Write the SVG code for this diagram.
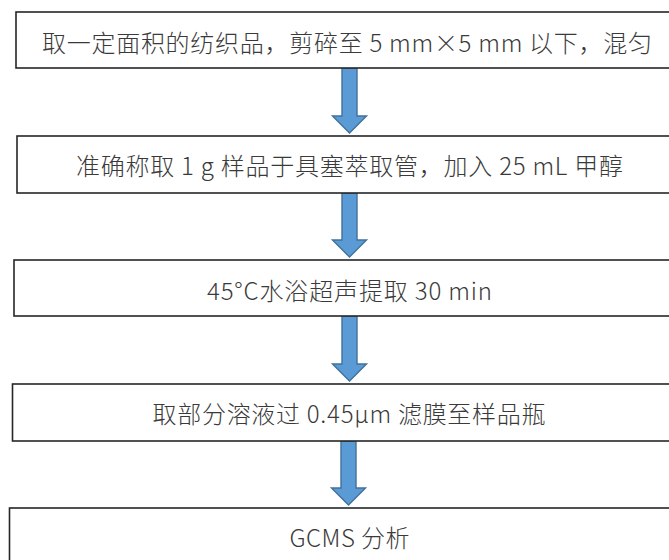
<svg xmlns="http://www.w3.org/2000/svg" width="669" height="560" viewBox="0 0 669 560">
<style>
.box{fill:#ffffff;stroke:#262626;stroke-width:1.6}
.t{font-family:"Noto Sans CJK SC","Noto Sans",sans-serif;font-size:24px;font-weight:300;fill:#3a3a3a;text-anchor:middle;dominant-baseline:central}
.arr{fill:#5B9BD5;stroke:#41719C;stroke-width:1.4;stroke-linejoin:miter}
</style>
<rect width="669" height="560" fill="#ffffff"/>
<g id="connectors">
<path class="arr" d="M342,68 H357 V116 H366.5 L349.5,133 L332.5,116 H342 Z"/>
<path class="arr" d="M342,193 H357 V240 H366.5 L349.5,257 L332.5,240 H342 Z"/>
<path class="arr" d="M342,316 H357 V364 H366.5 L349.5,381 L332.5,364 H342 Z"/>
<path class="arr" d="M341,441 H356 V488 H365.5 L348.5,505 L331.5,488 H341 Z"/>
</g>
<g id="n1">
<rect class="box" x="16" y="12" width="700" height="56"/>
<text class="t" x="347" y="41" textLength="610" lengthAdjust="spacing">取一定面积的纺织品，剪碎至 5 mm×5 mm 以下，混匀</text>
</g>
<g id="n2">
<rect class="box" x="17" y="136" width="700" height="57"/>
<text class="t" x="349.5" y="164" textLength="547" lengthAdjust="spacing">准确称取 1 g 样品于具塞萃取管，加入 25 mL 甲醇</text>
</g>
<g id="n3">
<rect class="box" x="14" y="260" width="700" height="56"/>
<text class="t" x="349.5" y="289" textLength="285" lengthAdjust="spacing">45°C水浴超声提取 30 min</text>
</g>
<g id="n4">
<rect class="box" x="12.5" y="384" width="700" height="57"/>
<text class="t" x="349" y="412" textLength="393" lengthAdjust="spacing">取部分溶液过 0.45μm 滤膜至样品瓶</text>
</g>
<g id="n5">
<rect class="box" x="9.5" y="508" width="700" height="80"/>
<text class="t" x="349.5" y="536" textLength="120" lengthAdjust="spacing">GCMS 分析</text>
</g>
</svg>
